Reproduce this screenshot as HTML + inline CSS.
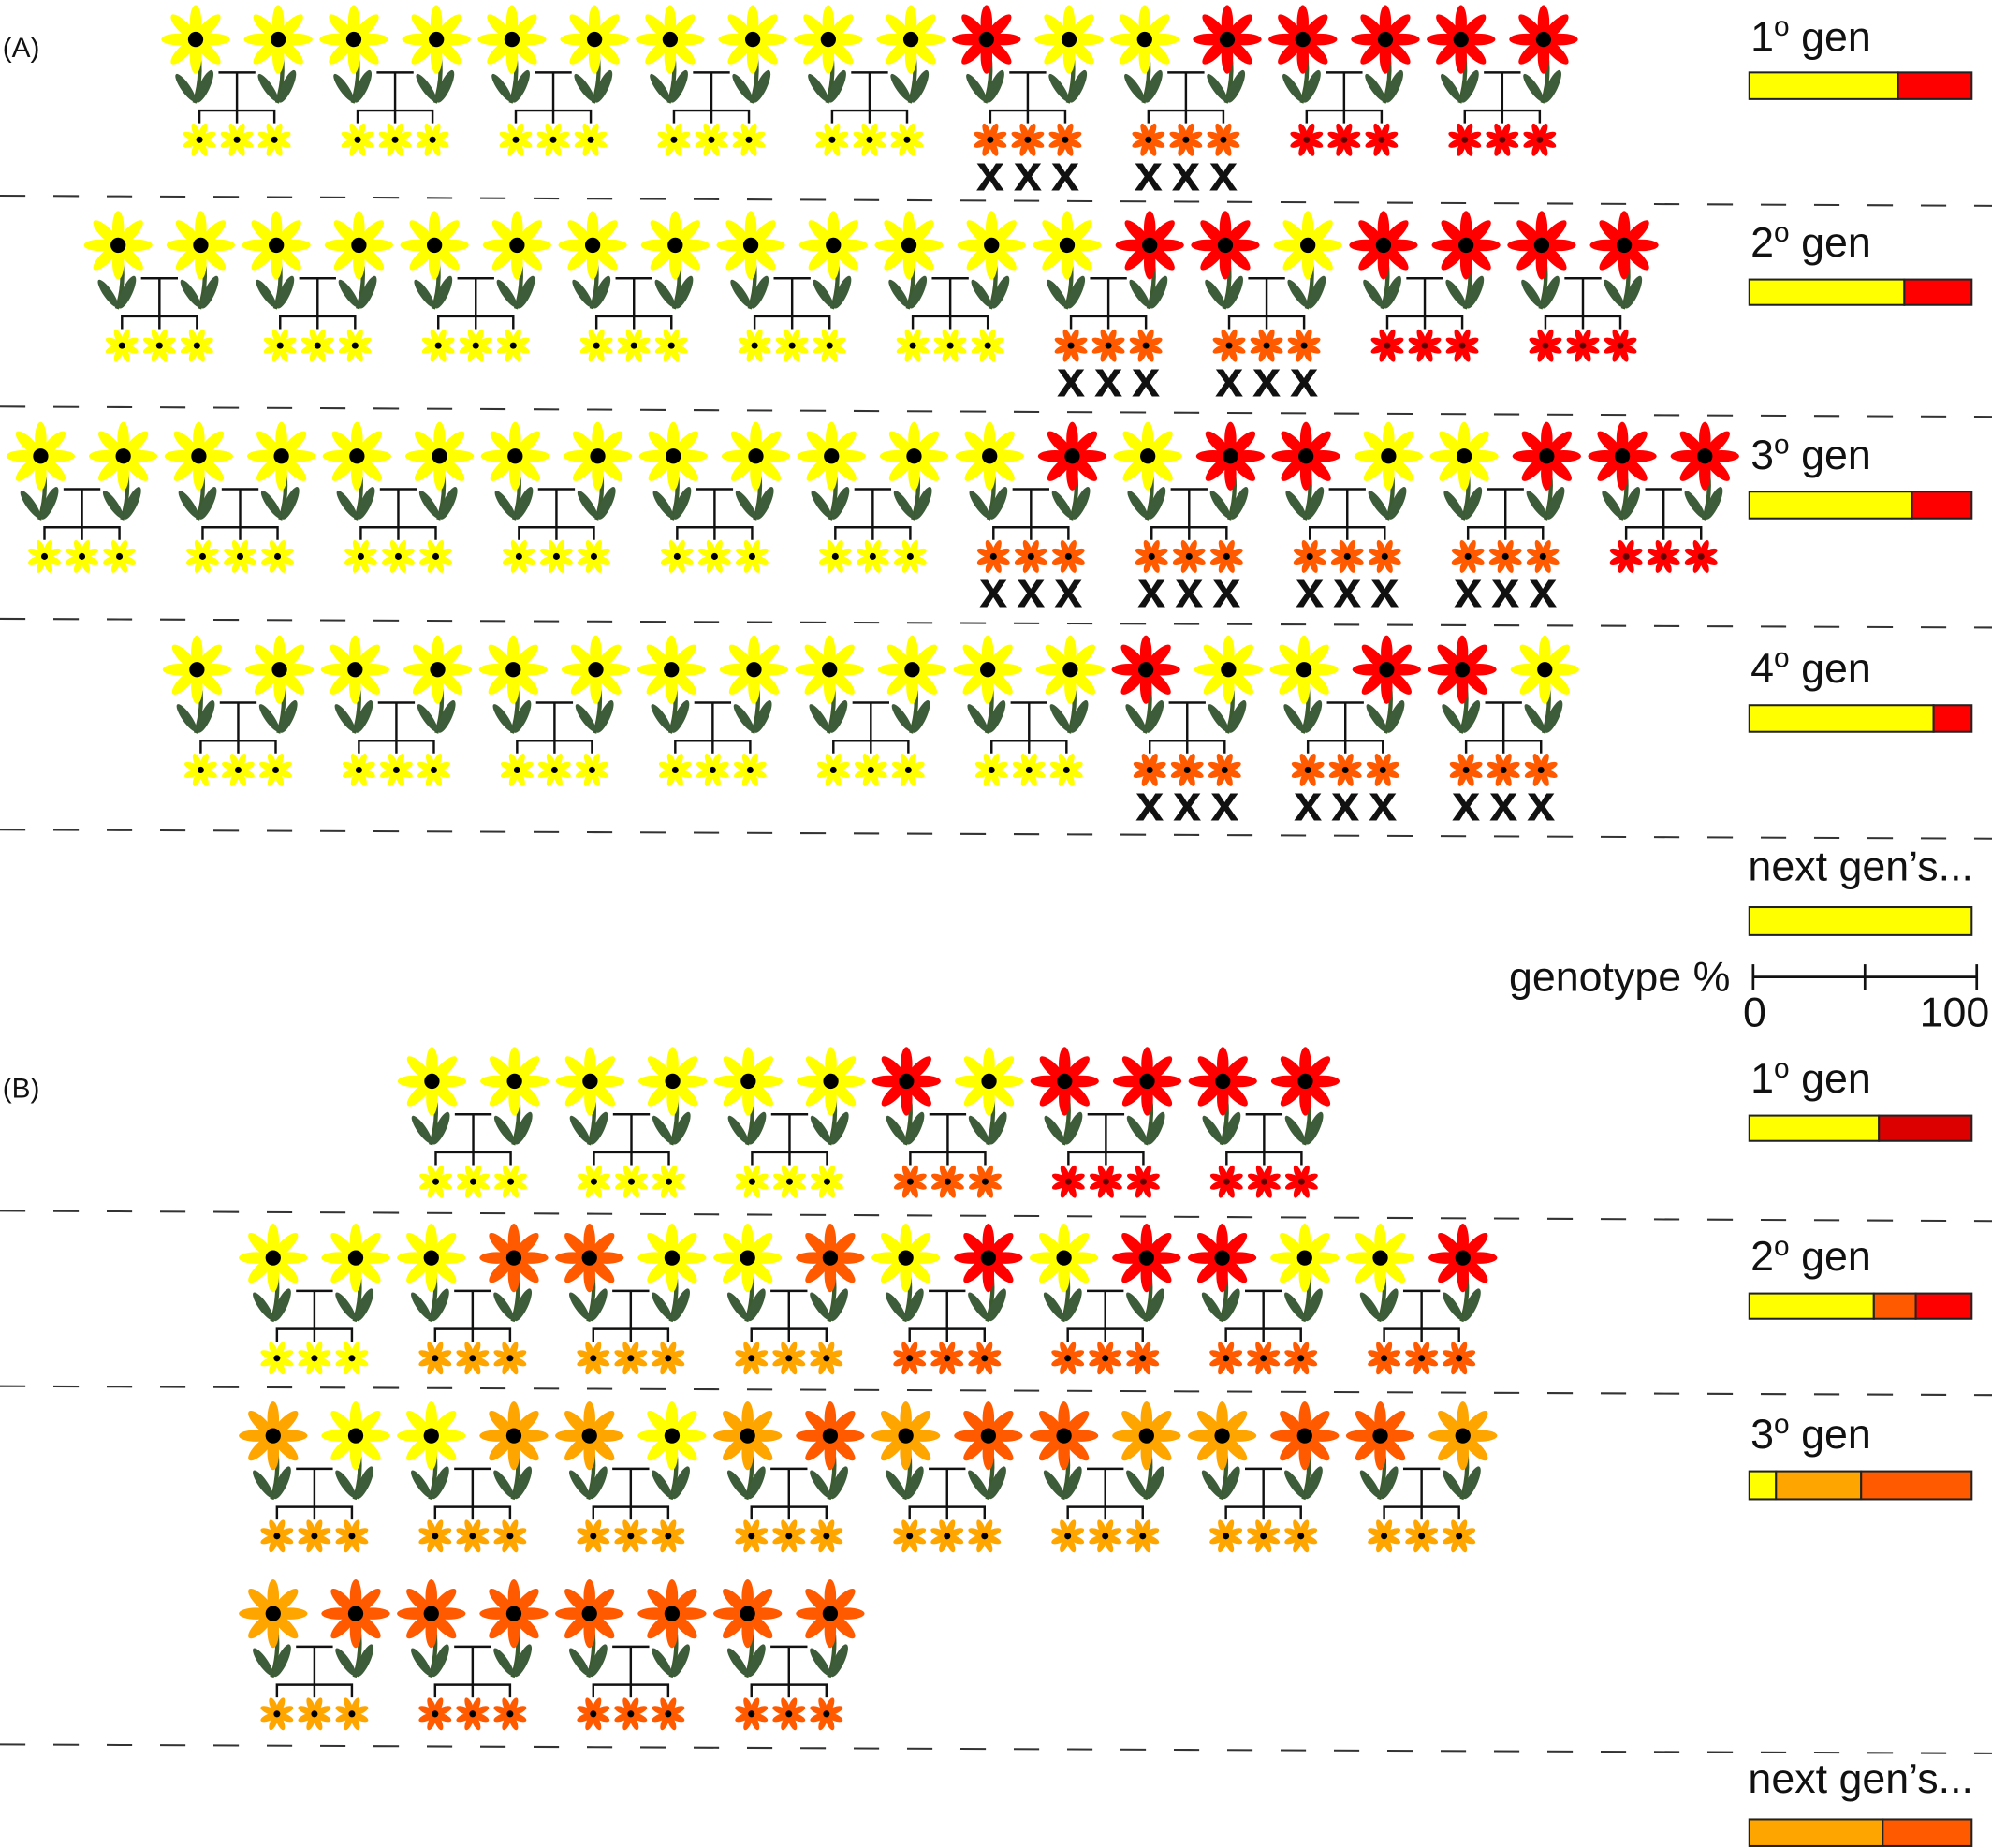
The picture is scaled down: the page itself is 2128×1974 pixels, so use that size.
<!DOCTYPE html>
<html><head><meta charset="utf-8"><style>
html,body{margin:0;padding:0;background:#fff;}
svg{display:block;}
text{font-family:"Liberation Sans",sans-serif;fill:#111;}
</style></head><body>
<svg id="s" width="2128" height="1974" viewBox="0 0 1568 1454.5" preserveAspectRatio="none" xmlns="http://www.w3.org/2000/svg">
<g id="g"></g>
<text x="2" y="45" font-size="22">(A)</text>
<text x="2" y="864" font-size="22">(B)</text>
<g font-size="33">
<text x="1378" y="40">1<tspan font-size="22" dy="-12">o</tspan><tspan dy="12"> gen</tspan></text>
<text x="1378" y="202">2<tspan font-size="22" dy="-12">o</tspan><tspan dy="12"> gen</tspan></text>
<text x="1378" y="369">3<tspan font-size="22" dy="-12">o</tspan><tspan dy="12"> gen</tspan></text>
<text x="1378" y="537">4<tspan font-size="22" dy="-12">o</tspan><tspan dy="12"> gen</tspan></text>
<text x="1376" y="693">next gen’s...</text>
<text x="1362" y="780" text-anchor="end">genotype %</text>
<text x="1372" y="808">0</text>
<text x="1566" y="808" text-anchor="end">100</text>
<text x="1378" y="860">1<tspan font-size="22" dy="-12">o</tspan><tspan dy="12"> gen</tspan></text>
<text x="1378" y="1000">2<tspan font-size="22" dy="-12">o</tspan><tspan dy="12"> gen</tspan></text>
<text x="1378" y="1140">3<tspan font-size="22" dy="-12">o</tspan><tspan dy="12"> gen</tspan></text>
<text x="1376" y="1411">next gen’s...</text>
</g>
<g stroke="#111" stroke-width="2">
<line x1="1380" y1="769" x2="1556" y2="769"/>
<line x1="1380" y1="759" x2="1380" y2="779"/>
<line x1="1468" y1="759" x2="1468" y2="779"/>
<line x1="1556" y1="759" x2="1556" y2="779"/>
</g>
<g id="bars" stroke="#222" stroke-width="1.5"></g>
</svg>
<script>
const Y="#ffff00",R="#ff0000",O="#ff5a00",L="#ffa500";
let out="";
function flower(cx,cy,c){
  let s=`<path d="M${cx} ${cy} Q${cx+7} ${cy+25} ${cx-1} ${cy+50}" stroke="#3b5a2e" stroke-width="3.2" fill="none"/>`;
  s+=`<ellipse cx="${cx-8}" cy="${cy+38}" rx="13" ry="3.6" fill="#3d5c3a" transform="rotate(55 ${cx-8} ${cy+38})"/>`;
  s+=`<ellipse cx="${cx+7}" cy="${cy+37}" rx="14" ry="4.2" fill="#3d5c3a" transform="rotate(-65 ${cx+7} ${cy+37})"/>`;
  for(let i=0;i<8;i++){const a=i*45;
    s+=`<ellipse cx="${cx+13.5}" cy="${cy}" rx="13.5" ry="4.6" fill="${c}" transform="rotate(${a+90} ${cx} ${cy})"/>`;}
  s+=`<circle cx="${cx}" cy="${cy}" r="6" fill="#000"/>`;
  return s;
}
function small(cx,cy,c){
  let s="";
  for(let i=0;i<8;i++){const a=i*45+22.5;
    s+=`<ellipse cx="${cx+7}" cy="${cy}" rx="6.8" ry="2.7" fill="${c}" transform="rotate(${a} ${cx} ${cy})"/>`;}
  s+=`<circle cx="${cx}" cy="${cy}" r="2.6" fill="${c==R?'#600':'#000'}"/>`;
  return s;
}
function pair(x,cy,a,b,ch,X){
  const x2=x+65, m=(x+x2)/2;
  let s=flower(x,cy,a)+flower(x2,cy,b);
  s+=`<g stroke="#111" stroke-width="1.8" fill="none"><line x1="${x+18}" y1="${cy+26}" x2="${x2-18}" y2="${cy+26}"/><line x1="${m}" y1="${cy+26}" x2="${m}" y2="${cy+66}"/><polyline points="${x+3},${cy+66} ${x+3},${cy+56} ${x2-3},${cy+56} ${x2-3},${cy+66}"/></g>`;
  for(const cxx of [x+3,m,x2-3]){s+=small(cxx,cy+79,ch);
    if(X) s+=`<text x="${cxx}" y="${cy+119}" font-size="40" font-weight="bold" text-anchor="middle">x</text>`;}
  return s;
}
function row(x0,cy,list){list.forEach((p,i)=>{out+=pair(x0+124.5*i,cy,p[0],p[1],p[2],p[3]);});}
const yy=[Y,Y,Y,0];
row(154,31,[yy,yy,yy,yy,yy,[R,Y,O,1],[Y,R,O,1],[R,R,R],[R,R,R]]);
row(93,193,[yy,yy,yy,yy,yy,yy,[Y,R,O,1],[R,Y,O,1],[R,R,R],[R,R,R]]);
row(32,359,[yy,yy,yy,yy,yy,yy,[Y,R,O,1],[Y,R,O,1],[R,Y,O,1],[Y,R,O,1],[R,R,R]]);
row(155,527,[yy,yy,yy,yy,yy,yy,[R,Y,O,1],[Y,R,O,1],[R,Y,O,1]]);
row(340,851,[yy,yy,yy,[R,Y,O],[R,R,R],[R,R,R]]);
row(215,990,[yy,[Y,O,L],[O,Y,L],[Y,O,L],[Y,R,O],[Y,R,O],[R,Y,O],[Y,R,O]]);
row(215,1130,[[L,Y,L],[Y,L,L],[L,Y,L],[L,O,L],[L,O,L],[O,L,L],[L,O,L],[O,L,L]]);
row(215,1270,[[L,O,L],[O,O,O],[O,O,O],[O,O,O]]);
for(const [a,b] of [[154,162],[320,328],[487,494],[653,660],[953,961],[1091,1098],[1373,1380]])
  out+=`<line x1="0" y1="${a}" x2="1568" y2="${b}" stroke="#333" stroke-width="1.5" stroke-dasharray="20 22"/>`;
document.getElementById("g").innerHTML=out;
let bs="";
function bar(y,h,segs){let x=1377;const W=175;
  segs.forEach(([f,c])=>{const w=W*f;bs+=`<rect x="${x}" y="${y}" width="${w}" height="${h}" fill="${c}"/>`;x+=w;});}
bar(57,21,[[117/175,Y],[58/175,R]]);
bar(220,20,[[122/175,Y],[53/175,R]]);
bar(387,21,[[128/175,Y],[47/175,R]]);
bar(555,21,[[145/175,Y],[30/175,R]]);
bar(714,22,[[1,Y]]);
bar(878,20,[[102/175,Y],[73/175,"#dd0000"]]);
bar(1018,20,[[98/175,Y],[33/175,O],[44/175,R]]);
bar(1158,22,[[21/175,Y],[67/175,L],[87/175,O]]);
bar(1432,21,[[105/175,L],[70/175,O]]);
document.getElementById("bars").innerHTML=bs;
</script>
</body></html>
